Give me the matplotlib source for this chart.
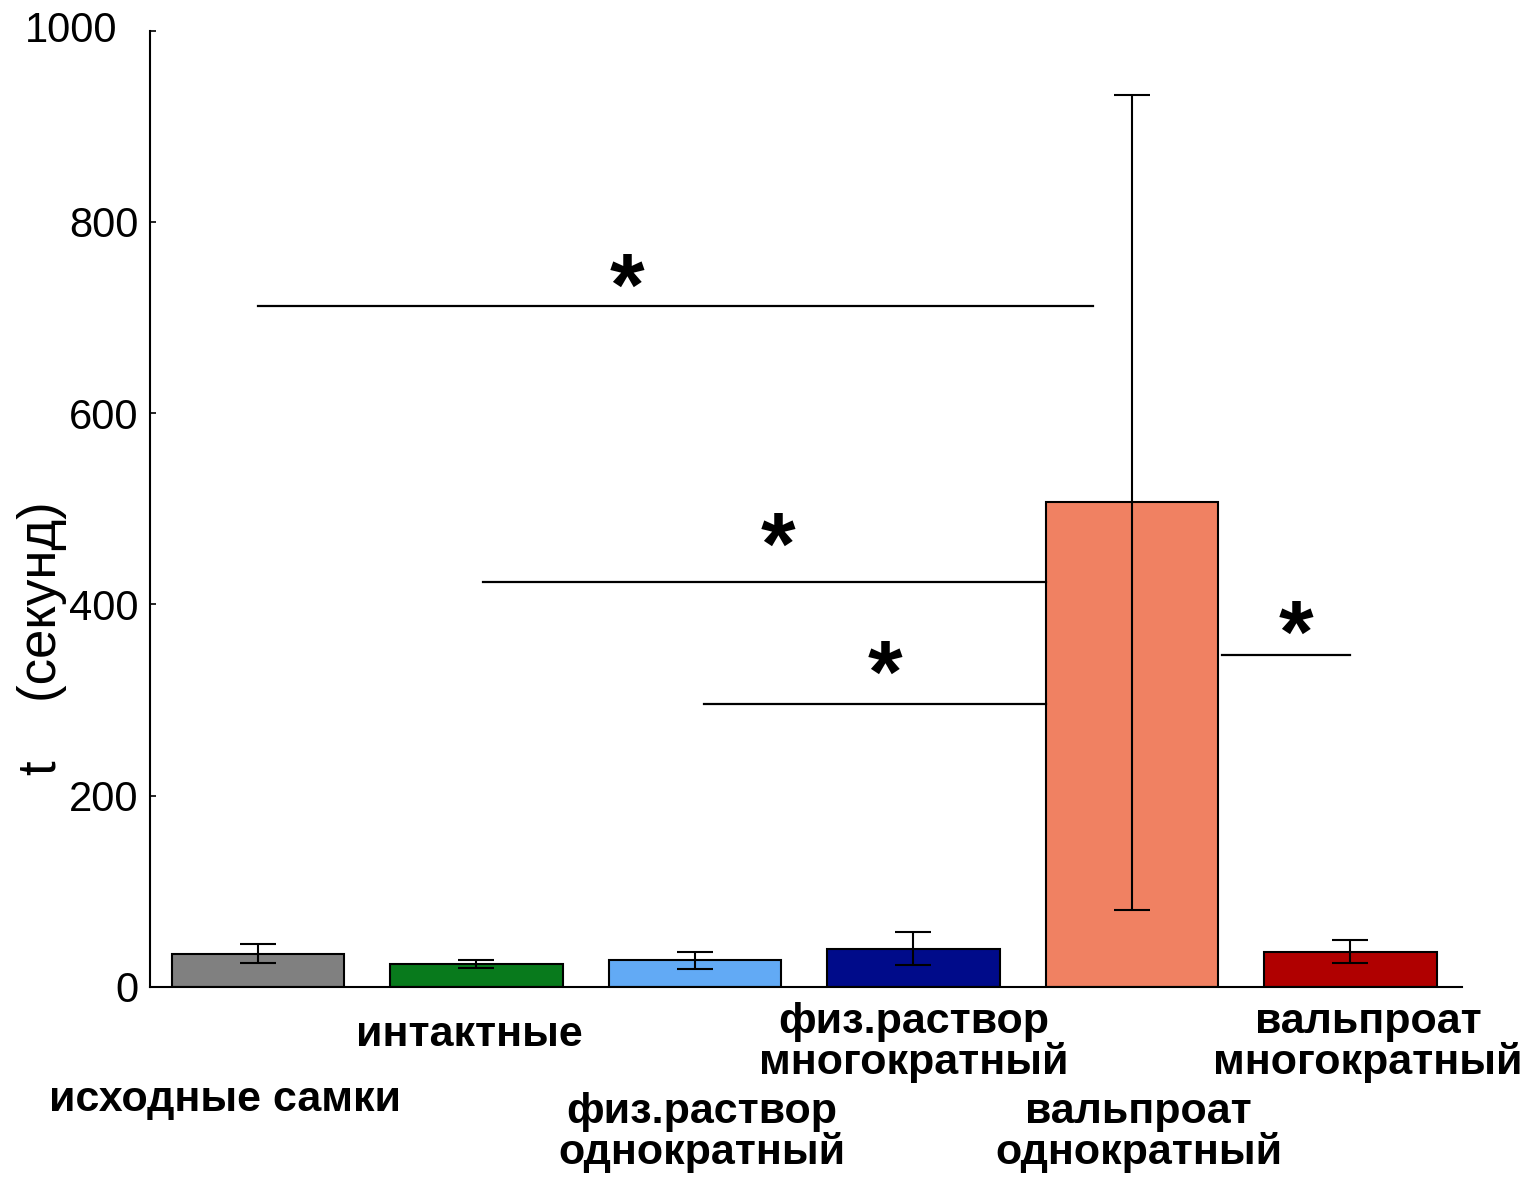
import matplotlib
matplotlib.use("Agg")
import matplotlib.pyplot as plt

plt.rcParams['font.family'] = ['Liberation Sans', 'DejaVu Sans']

# group labels (staggered under the bars)
groups = ["исходные самки", "интактные", "физ.раствор\nоднократный",
          "физ.раствор\nмногократный", "вальпроат\nоднократный",
          "вальпроат\nмногократный"]
means = [35, 24, 28, 40, 507, 37]
errors = [10, 4, 9, 17, 426, 12]
colors = ["#808080", "#087a1c", "#62aaf5", "#000b8a", "#f08162", "#b00000"]

yticks = [0, 200, 400, 600, 800, 1000]

# significance comparisons: (from x, to x, level)
sig_x0 = [0.0, 1.03, 2.04, 4.41]
sig_x1 = [3.82, 3.605, 3.605, 5.0]
sig_y = [712, 423, 296, 347]
star_x = [1.69, 2.38, 2.87, 4.75]
star_y = [727, 456, 322, 364]

fig = plt.figure(figsize=(15.38, 11.82), dpi=100)
ax = fig.add_axes([0.0975, 0.165, 0.853, 0.809])

x = list(range(len(groups)))
ax.bar(x, means, width=0.79, color=colors, edgecolor='black', linewidth=1.5, zorder=2)
ax.errorbar(x, means, yerr=errors, fmt='none', ecolor='black', elinewidth=1.5,
            capsize=13, capthick=1.5, zorder=3)

for x0, x1, y in zip(sig_x0, sig_x1, sig_y):
    ax.plot([x0, x1], [y, y], color='black', linewidth=1.6, zorder=3)
for sx, sy in zip(star_x, star_y):
    ax.text(sx, sy, "*", ha='center', va='center', fontsize=64, fontweight='bold')

ax.set_xlim(-0.494, 5.51)
ax.set_ylim(0, 1000)
ax.set_yticks(yticks)
# top label sits further left in the original, drawn separately below
ax.set_yticklabels([str(t) for t in yticks[:-1]] + [""])
ax.set_xticks([])
ax.tick_params(axis='y', direction='in', length=4, width=1.2, pad=8, labelsize=30)
ax.spines['top'].set_visible(False)
ax.spines['right'].set_visible(False)
ax.spines['left'].set_linewidth(1.5)
ax.spines['bottom'].set_linewidth(1.5)
ax.text(-0.025, yticks[-1], str(yticks[-1]), transform=ax.get_yaxis_transform(),
        ha='right', va='center', fontsize=30)

# staggered labels: x in data, y in axes fraction
label_x = [-0.15, 0.97, 2.03, 3.0, 4.03, 5.08]
label_y = [-0.118, -0.05, -0.152, -0.058, -0.152, -0.058]
trans = ax.get_xaxis_transform()
for lx, ly, g in zip(label_x, label_y, groups):
    ax.text(lx, ly, g, transform=trans, ha='center', va='center',
            fontsize=31, fontweight='bold', linespacing=1.0)

fig.text(42 / 1538, 1 - 638 / 1182, "t    (секунд)", rotation=90,
         ha='center', va='center', fontsize=38)

fig.savefig("out.png", dpi=100)
